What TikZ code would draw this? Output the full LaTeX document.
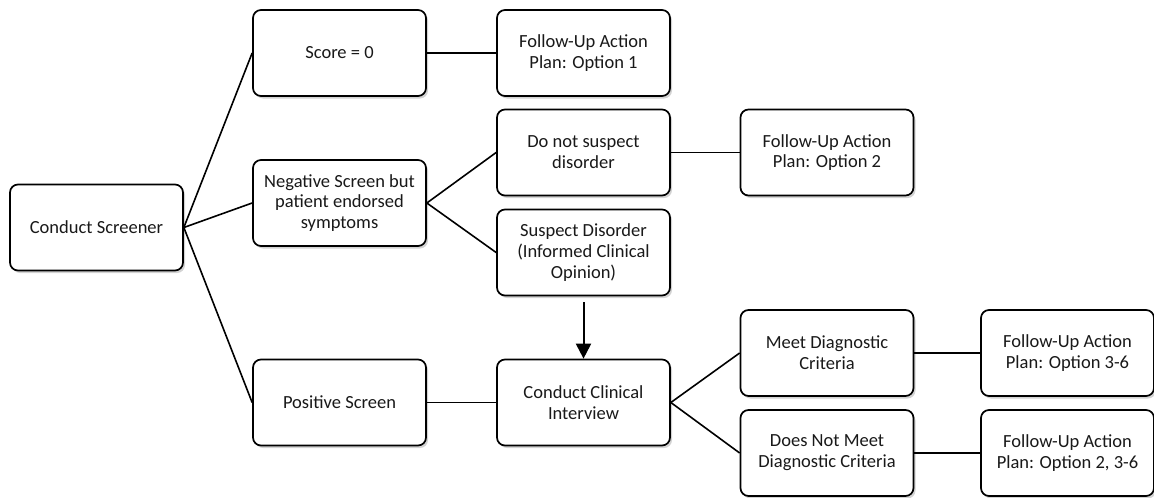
\documentclass[tikz,border=0pt]{standalone}
\usepackage{fontspec}
\setmainfont{Carlito}
\usetikzlibrary{arrows.meta,shadows}
\begin{document}
\begin{tikzpicture}[x=1pt,y=-1pt,
  box/.style={draw=black, line width=1.7pt, rounded corners=8pt, fill=white,
    minimum width=173pt, minimum height=86pt, align=center, inner sep=2pt,
    font=\fontsize{18.5}{20.8}\selectfont, text=black!90,
    drop shadow={shadow xshift=2pt, shadow yshift=-2.5pt, opacity=0.35, fill=black!50}},
  link/.style={line width=1.6pt, black},
  arr/.style={line width=2pt, black, -{Triangle[length=15pt,width=15pt]}}]
\useasboundingbox (0,0) rectangle (1154,498);
\node[box] (cs) at (96.5,227.5) {Conduct Screener};
\node[box] (s0) at (339.5,53) {Score = 0};
\node[box] (neg) at (339.5,203) {Negative Screen but\\patient endorsed\\symptoms};
\node[box] (pos) at (339.5,402.5) {Positive Screen};
\node[box] (fu1) at (583.5,53) {Follow-Up Action\\Plan: Option 1};
\node[box] (dns) at (583.5,152.5) {Do not suspect\\disorder};
\node[box] (sd) at (583.5,252.5) {Suspect Disorder\\(Informed Clinical\\Opinion)};
\node[box] (cci) at (583.5,402.5) {Conduct Clinical\\Interview};
\node[box] (fu2) at (827,152.5) {Follow-Up Action\\Plan: Option 2};
\node[box] (meet) at (827,353) {Meet Diagnostic\\Criteria};
\node[box] (dnm) at (827,453) {Does Not Meet\\Diagnostic Criteria};
\node[box] (fu36) at (1067.5,353) {Follow-Up Action\\Plan: Option 3-6};
\node[box] (fu236) at (1067.5,453) {Follow-Up Action\\Plan: Option 2, 3-6};
\draw[link] (cs.east) -- (s0.west);
\draw[link] (cs.east) -- (neg.west);
\draw[link] (cs.east) -- (pos.west);
\draw[link] (s0.east) -- (fu1.west);
\draw[link] (neg.east) -- (dns.west);
\draw[link] (neg.east) -- (sd.west);
\draw[link] (dns.east) -- (fu2.west);
\draw[link] (pos.east) -- (cci.west);
\draw[link] (cci.east) -- (meet.west);
\draw[link] (cci.east) -- (dnm.west);
\draw[link] (meet.east) -- (fu36.west);
\draw[link] (dnm.east) -- (fu236.west);
\draw[arr, shorten <=6pt] (sd.south) -- (cci.north);
\end{tikzpicture}
\end{document}
